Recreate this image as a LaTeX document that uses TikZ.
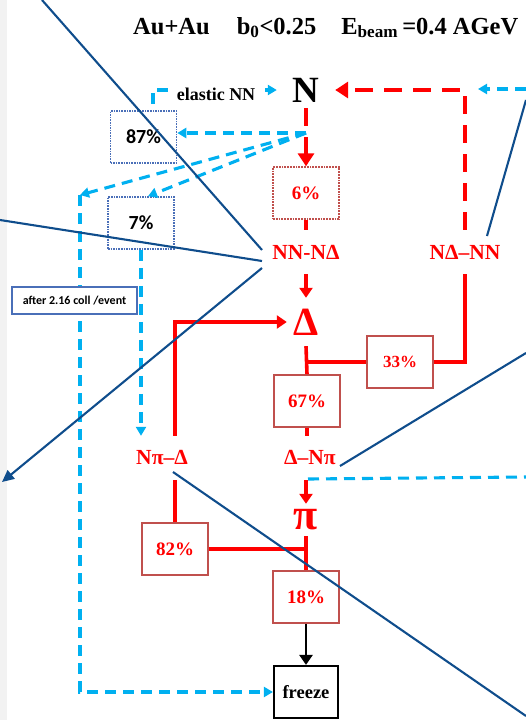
\documentclass[tikz,border=0pt]{standalone}
\usepackage{fontspec}
\setmainfont{Liberation Serif}
\newfontfamily\calibfont{Carlito}
\usetikzlibrary{arrows.meta}
\definecolor{flowred}{HTML}{FF0000}
\definecolor{boxred}{HTML}{C0504D}
\definecolor{skyline}{HTML}{00B0F0}
\definecolor{boxblue}{HTML}{4A6FB8}
\definecolor{callblue}{HTML}{0F4D8C}
\tikzset{
  redhead/.tip={Triangle[length=10pt,width=13pt]},
  bighead/.tip={Triangle[length=13pt,width=16pt]},
  cyhead/.tip={Triangle[length=9pt,width=10pt]},
  pct/.style={draw=boxred, line width=1.8pt, fill=white, text=flowred,
    font=\fontsize{19}{21}\selectfont\bfseries, minimum width=66pt, minimum height=52pt, inner sep=0pt},
  pctdot/.style={pct, densely dotted, line width=1.4pt},
  elbox/.style={draw=boxblue, densely dotted, line width=1.6pt, fill=white,
    font=\calibfont\fontsize{20}{22}\selectfont\bfseries, minimum width=66pt, minimum height=52pt, inner sep=0pt},
  proc/.style={text=flowred, font=\fontsize{21.5}{24}\selectfont\bfseries, minimum width=100pt, minimum height=44pt, inner sep=0pt},
  particle/.style={text=flowred, font=\fontsize{40}{44}\selectfont\bfseries, inner sep=0pt},
  redflow/.style={draw=flowred, line width=3.6pt},
  redjump/.style={draw=flowred, line width=4.6pt, dash pattern=on 18pt off 11pt},
  cyflow/.style={draw=skyline, line width=3.1pt, dash pattern=on 11pt off 7pt},
  callout/.style={draw=callblue, line width=2.1pt},
}
\begin{document}
\begin{tikzpicture}[x=1pt,y=-1pt]
\useasboundingbox (0,0) rectangle (526,720);
\fill[black!5] (0,0) rectangle (7,720);

\node[font=\fontsize{24.5}{28}\selectfont\bfseries, anchor=base west, inner sep=0pt] (title) at (133,34)
  {Au+Au\hspace{27pt}b\textsubscript{0}<0.25\hspace{25pt}E\textsubscript{beam}\,=0.4 AGeV};

\node[font=\fontsize{37}{40}\selectfont\bfseries, minimum width=58pt, minimum height=36pt, inner sep=0pt] (nucl) at (306,90) {N};
\node[elbox] (pc87) at (143.5,137) {87\%};
\node[elbox] (pc7) at (141,223) {7\%};
\node[pctdot] (pc6) at (306,193) {6\%};
\node[proc] (nnnd) at (306,252) {NN-NΔ};
\node[proc] (ndnn) at (465,252) {NΔ–NN};
\node[particle, minimum width=38pt, minimum height=48pt] (delta) at (306,322) {Δ};
\node[pct, font=\fontsize{17}{19}\selectfont\bfseries] (pc33) at (400,362) {33\%};
\node[pct] (pc67) at (307,401) {67\%};
\node[proc] (dnpi) at (310,458) {Δ–Nπ};
\node[proc] (npid) at (162,458) {Nπ–Δ};
\node[particle, font=\fontsize{44}{46}\selectfont\bfseries, minimum width=30pt, minimum height=32pt] (pion) at (306,520) {π};
\node[pct] (pc82) at (175,549) {82\%};
\node[pct] (pc18) at (306,597) {18\%};
\node[draw=black, line width=2.2pt, font=\fontsize{18.5}{20}\selectfont\bfseries, minimum width=64pt, minimum height=52pt, inner sep=0pt] (freeze) at (306,692) {freeze};

\coordinate (split) at (306,133);
\coordinate (leftTop) at (80,195);
\coordinate (elStart) at (153,104);
\coordinate (rightIn) at (526,89);
\coordinate (rightTip) at (478,89);
\coordinate (pionIn) at (308,479);
\coordinate (pionOut) at (526,477);

\draw[redjump, -bighead] (nucl.south) -- (pc6.north);
\draw[redflow] (pc6.south) -- (nnnd.north);
\draw[redflow, -redhead] (nnnd.south) -- (delta.north);
\draw[redflow, -redhead] (pc82.north |- npid.north) |- (delta.west);
\draw[redflow] (delta.south) -- (pc67.north);
\draw[redflow] (delta.south |- pc33.west) -- (pc33.west);
\draw[redflow] (pc33.east) -| (ndnn.south);
\draw[redjump, -bighead] (ndnn.north) |- (nucl.east);
\draw[redflow] (pc67.south) -- (pc67.south |- dnpi.north);
\draw[redflow, -redhead] (pion.north |- dnpi.south) -- (pion.north);
\draw[redflow] (pc82.north |- npid.south) -- (pc82.north);
\draw[redflow] (pc82.east) -- (pc82.east -| pion.south);
\draw[redflow] (pion.south) -- (pc18.north);
\draw[line width=2.8pt, -redhead] (pc18.south) -- (freeze.north);

\draw[cyflow, -cyhead] (elStart) |- (nucl.west);
\draw[cyflow, -cyhead] (split) -- (split -| pc87.east);
\draw[cyflow, -cyhead] (split) -- (leftTop);
\draw[cyflow, -cyhead] (split) -- ([xshift=7pt]pc7.north);
\draw[cyflow, -cyhead] (pc7.south) -- (pc7.south |- npid.north);
\draw[cyflow, -cyhead] (leftTop) |- (freeze.west);
\draw[cyflow, -cyhead] (rightIn) -- (rightTip);
\draw[cyflow] (pionIn) -- (pionOut);

\node[font=\fontsize{18}{20}\selectfont\bfseries, fill=white, inner sep=3pt] (elastic) at (216,94) {elastic NN};
\node[draw=boxblue, line width=1.3pt, fill=white, font=\calibfont\fontsize{12}{14}\selectfont\bfseries,
  minimum width=125pt, minimum height=27pt, inner sep=0pt] (after) at (74.5,300.5) {after 2.16 coll /event};

\coordinate (calA) at (42,0);
\coordinate (tipA) at (262,250);
\coordinate (calB) at (0,220);
\coordinate (tipB) at (262,261);
\coordinate (tipC) at (262,268);
\coordinate (calC) at (2,482);
\coordinate (calD) at (526,100);
\coordinate (tipD) at (487,236);
\coordinate (calE) at (526,353);
\coordinate (tipE) at (340,466);
\coordinate (tipF) at (173,472);
\coordinate (calF) at (526,716);
\draw[callout] (calA) -- (tipA);
\draw[callout] (calB) -- (tipB);
\draw[callout, -{Triangle[length=12pt,width=11pt]}] (tipC) -- (calC);
\draw[callout] (calD) -- (tipD);
\draw[callout] (calE) -- (tipE);
\draw[callout] (tipF) -- (calF);
\end{tikzpicture}
\end{document}
